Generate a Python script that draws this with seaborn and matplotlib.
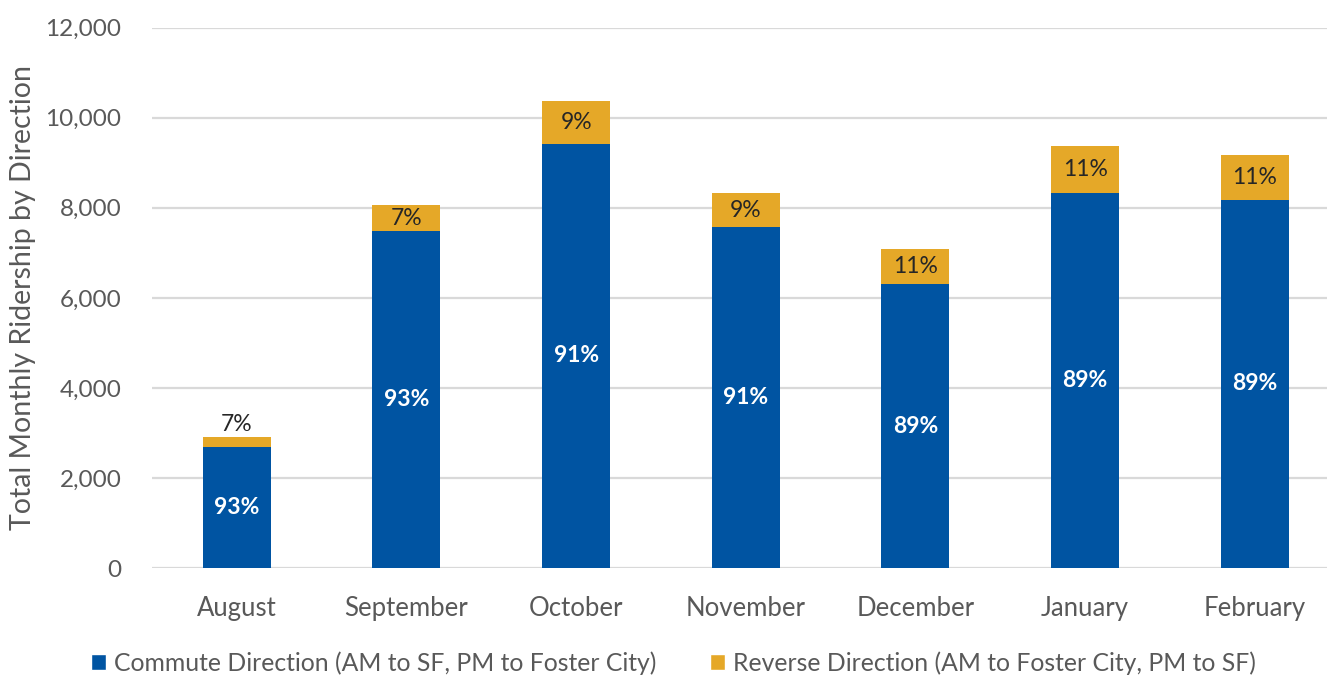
import matplotlib
matplotlib.use("Agg")
import matplotlib.pyplot as plt
from matplotlib.patches import Patch
import numpy as np
import pandas as pd
import seaborn as sns

# Monthly ridership split by travel direction
months = ["August", "September", "October", "November", "December", "January", "February"]
commute = [2695, 7480, 9420, 7580, 6305, 8330, 8185]
reverse = [205, 580, 950, 740, 770, 1040, 985]

commute_label = "Commute Direction (AM to SF, PM to Foster City)"
reverse_label = "Reverse Direction (AM to Foster City, PM to SF)"
y_title = "Total Monthly Ridership by Direction"
y_ticks = [0, 2000, 4000, 6000, 8000, 10000, 12000]

BLUE = "#0054A2"
GOLD = "#E5A828"
GRID = "#D9D9D9"
TEXT = "#595959"

sns.set_theme(style="white")
plt.rcParams["font.family"] = ["Lato", "DejaVu Sans"]

df = pd.DataFrame({"month": months, "commute": commute, "reverse": reverse})
df["total"] = df["commute"] + df["reverse"]

fig = plt.figure(figsize=(13.27, 6.75), dpi=100)
ax = fig.add_axes([0.1145, 0.1585, 0.8855, 0.8004])

# Stacked bars: total height in gold, commute share drawn over it in blue
sns.barplot(data=df, x="month", y="total", color=GOLD, width=0.4,
            saturation=1, linewidth=0, ax=ax, zorder=3)
sns.barplot(data=df, x="month", y="commute", color=BLUE, width=0.4,
            saturation=1, linewidth=0, ax=ax, zorder=4)

ax.set_ylim(0, 12000)
ax.set_xlim(-0.5, 6.426)
ax.set_yticks(y_ticks)
ax.set_yticklabels([f"{v:,}" for v in y_ticks])
ax.yaxis.grid(True, color=GRID, linewidth=1.6, zorder=0)
ax.set_axisbelow(True)
for s in ax.spines.values():
    s.set_visible(False)
ax.tick_params(axis="y", labelsize=17.5, labelcolor=TEXT, pad=22, length=0)
ax.tick_params(axis="x", labelsize=18.5, labelcolor=TEXT, pad=20, length=0)
ax.set_xlabel("")
ax.set_ylabel(y_title, fontsize=20.5, color=TEXT, labelpad=7)

# Percentage labels
for i, row in df.iterrows():
    c_pct = round(100 * row["commute"] / row["total"])
    r_pct = round(100 * row["reverse"] / row["total"])
    ax.text(i, row["commute"] / 2, f"{c_pct}%", ha="center", va="center",
            color="white", fontsize=16.5, fontweight="bold", zorder=5)
    if row["reverse"] < 500:
        ax.text(i, row["total"] + 60, f"{r_pct}%", ha="center", va="bottom",
                color="#262626", fontsize=16.5, zorder=5)
    else:
        ax.text(i, row["commute"] + row["reverse"] / 2, f"{r_pct}%",
                ha="center", va="center", color="#262626", fontsize=16.5, zorder=5)

handles = [Patch(facecolor=BLUE, label=commute_label),
           Patch(facecolor=GOLD, label=reverse_label)]
leg = fig.legend(handles=handles, loc="center", bbox_to_anchor=(0.5075, 0.018),
                 ncol=2, frameon=False, fontsize=17.8, handlelength=0.6,
                 handleheight=0.6, handletextpad=0.3, columnspacing=2.2)
for t in leg.get_texts():
    t.set_color(TEXT)

fig.savefig("out.png", dpi=100)
